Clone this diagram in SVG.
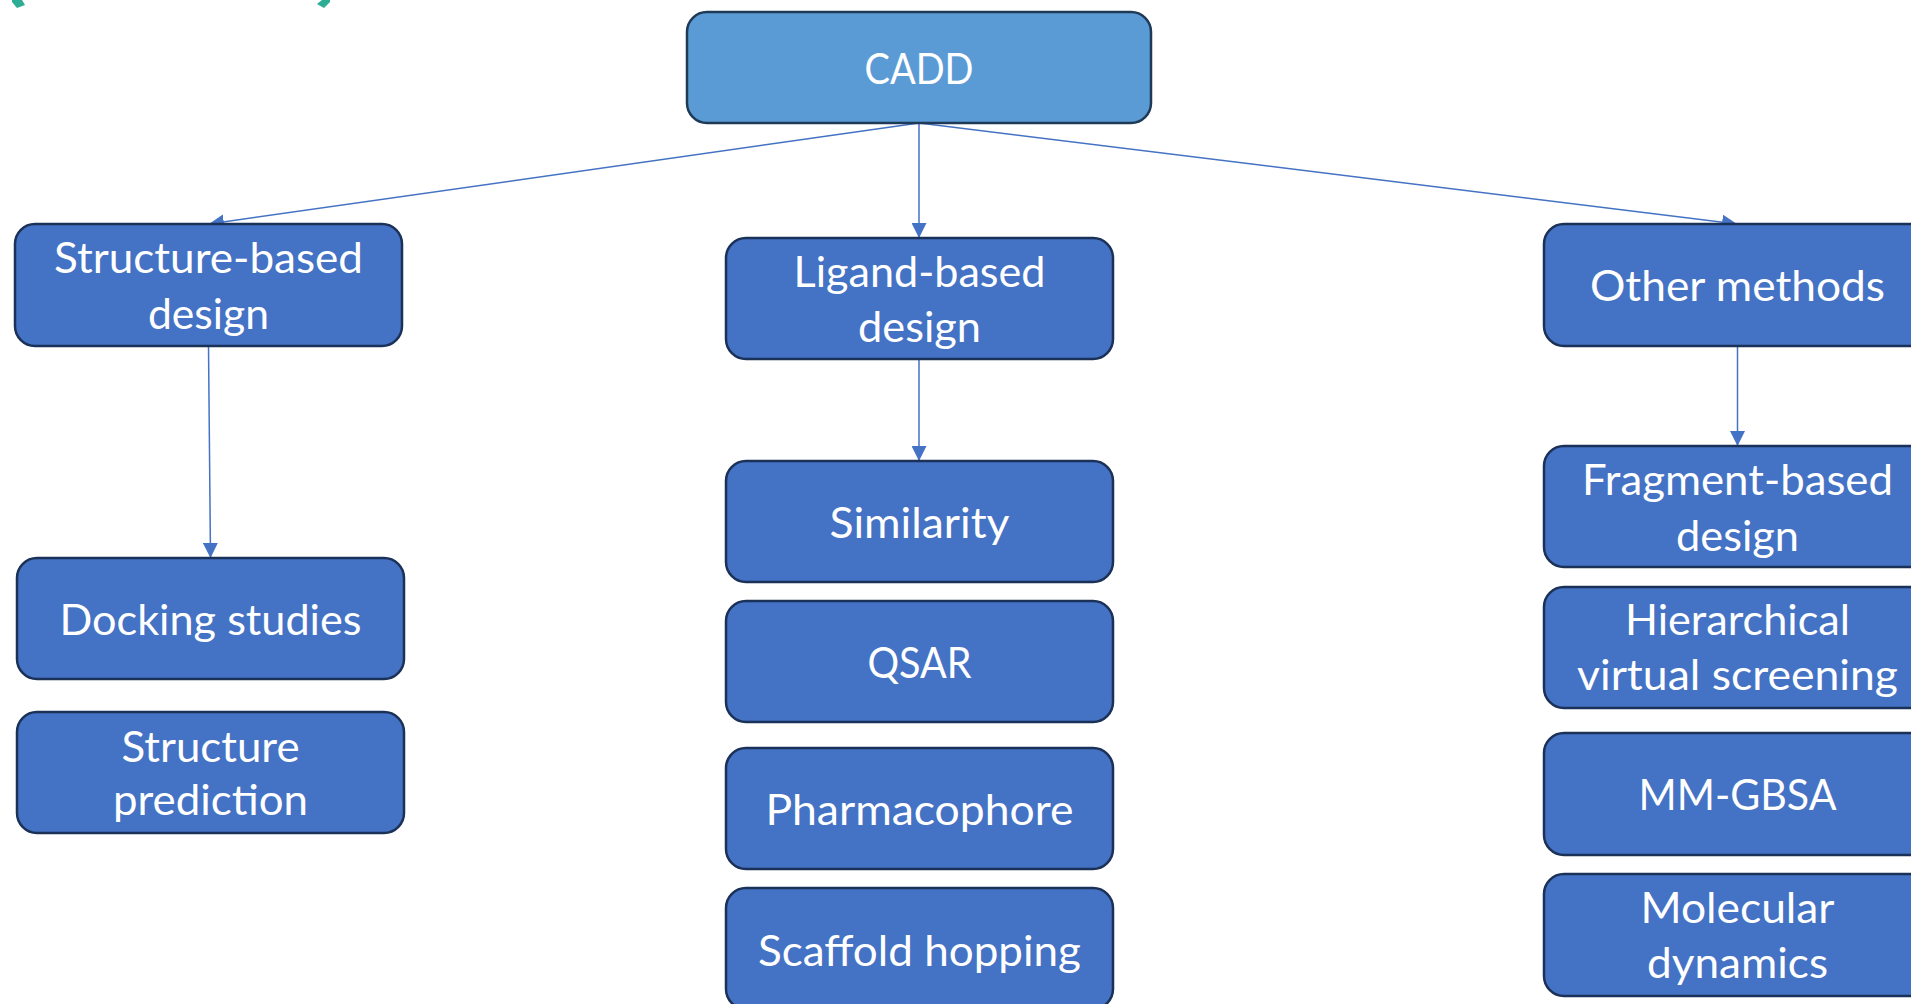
<svg xmlns="http://www.w3.org/2000/svg" width="1911" height="1004" viewBox="0 0 1911 1004">
<style>
.box{fill:#4472C4;stroke:#1B3157;stroke-width:2.5}
.root{fill:#5B9BD5;stroke:#1F3A57;stroke-width:2.5}
.lbl{font-family:Lato,"Open Sans",sans-serif;font-size:42px;fill:#FFFFFF;text-anchor:middle}
.con{stroke:#4472C4;stroke-width:1.5;fill:none;marker-end:url(#ah)}
</style>
<defs>
<marker id="ah" markerUnits="userSpaceOnUse" markerWidth="15" markerHeight="15" refX="15" refY="7.5" orient="auto">
<path d="M0,0 L15,7.5 L0,15 Z" fill="#4472C4"/>
</marker>
</defs>
<g id="decor">
<polygon points="12,0 22,0 25,5 17,8 12,2" fill="#2EAD95"/>
<polygon points="317,4 322,0 330,0 330,2 324,8" fill="#2EAD95"/>
</g>
<g id="connectors">
<line class="con" x1="919" y1="123" x2="209" y2="224"/>
<line class="con" x1="919" y1="123" x2="919" y2="238"/>
<line class="con" x1="919" y1="123" x2="1737" y2="224"/>
<line class="con" x1="208.5" y1="346" x2="210.5" y2="558"/>
<line class="con" x1="919" y1="359" x2="919" y2="461"/>
<line class="con" x1="1737.5" y1="346" x2="1737.5" y2="446"/>
</g>
<g id="cadd">
<rect class="root" x="687" y="12" width="464" height="111" rx="20"/>
<text class="lbl" x="919" y="84" textLength="109" lengthAdjust="spacingAndGlyphs">CADD</text>
</g>
<g id="structure-based">
<rect class="box" x="15" y="224" width="387" height="122" rx="20"/>
<text class="lbl" x="208.5" y="273" textLength="309" lengthAdjust="spacingAndGlyphs">Structure-based</text>
<text class="lbl" x="208.5" y="329" textLength="121" lengthAdjust="spacingAndGlyphs">design</text>
</g>
<g id="ligand-based">
<rect class="box" x="726" y="238" width="387" height="121" rx="20"/>
<text class="lbl" x="919.5" y="287" textLength="252" lengthAdjust="spacingAndGlyphs">Ligand-based</text>
<text class="lbl" x="919.5" y="342" textLength="123" lengthAdjust="spacingAndGlyphs">design</text>
</g>
<g id="other-methods">
<rect class="box" x="1544" y="224" width="387" height="122" rx="20"/>
<text class="lbl" x="1737.5" y="301" textLength="295" lengthAdjust="spacingAndGlyphs">Other methods</text>
</g>
<g id="docking">
<rect class="box" x="17" y="558" width="387" height="121" rx="20"/>
<text class="lbl" x="210.5" y="635" textLength="302" lengthAdjust="spacingAndGlyphs">Docking studies</text>
</g>
<g id="structure-prediction">
<rect class="box" x="17" y="712" width="387" height="121" rx="20"/>
<text class="lbl" x="210.5" y="762" textLength="178" lengthAdjust="spacingAndGlyphs">Structure</text>
<text class="lbl" x="210.5" y="815" textLength="195" lengthAdjust="spacingAndGlyphs">prediction</text>
</g>
<g id="similarity">
<rect class="box" x="726" y="461" width="387" height="121" rx="20"/>
<text class="lbl" x="919.5" y="538" textLength="180" lengthAdjust="spacingAndGlyphs">Similarity</text>
</g>
<g id="qsar">
<rect class="box" x="726" y="601" width="387" height="121" rx="20"/>
<text class="lbl" x="919.5" y="678" textLength="104" lengthAdjust="spacingAndGlyphs">QSAR</text>
</g>
<g id="pharmacophore">
<rect class="box" x="726" y="748" width="387" height="121" rx="20"/>
<text class="lbl" x="919.5" y="825" textLength="308" lengthAdjust="spacingAndGlyphs">Pharmacophore</text>
</g>
<g id="scaffold-hopping">
<rect class="box" x="726" y="888" width="387" height="121" rx="20"/>
<text class="lbl" x="919.5" y="966" textLength="323" lengthAdjust="spacingAndGlyphs">Scaffold hopping</text>
</g>
<g id="fragment-based">
<rect class="box" x="1544" y="446" width="387" height="121" rx="20"/>
<text class="lbl" x="1737.5" y="495" textLength="311" lengthAdjust="spacingAndGlyphs">Fragment-based</text>
<text class="lbl" x="1737.5" y="551" textLength="123" lengthAdjust="spacingAndGlyphs">design</text>
</g>
<g id="hierarchical">
<rect class="box" x="1544" y="587" width="387" height="121" rx="20"/>
<text class="lbl" x="1737.5" y="635" textLength="225" lengthAdjust="spacingAndGlyphs">Hierarchical</text>
<text class="lbl" x="1737.5" y="690" textLength="321" lengthAdjust="spacingAndGlyphs">virtual screening</text>
</g>
<g id="mm-gbsa">
<rect class="box" x="1544" y="733" width="387" height="122" rx="20"/>
<text class="lbl" x="1737.5" y="810" textLength="198" lengthAdjust="spacingAndGlyphs">MM-GBSA</text>
</g>
<g id="molecular-dynamics">
<rect class="box" x="1544" y="874" width="387" height="122" rx="20"/>
<text class="lbl" x="1737.5" y="923" textLength="194" lengthAdjust="spacingAndGlyphs">Molecular</text>
<text class="lbl" x="1737.5" y="978" textLength="181" lengthAdjust="spacingAndGlyphs">dynamics</text>
</g>
</svg>
